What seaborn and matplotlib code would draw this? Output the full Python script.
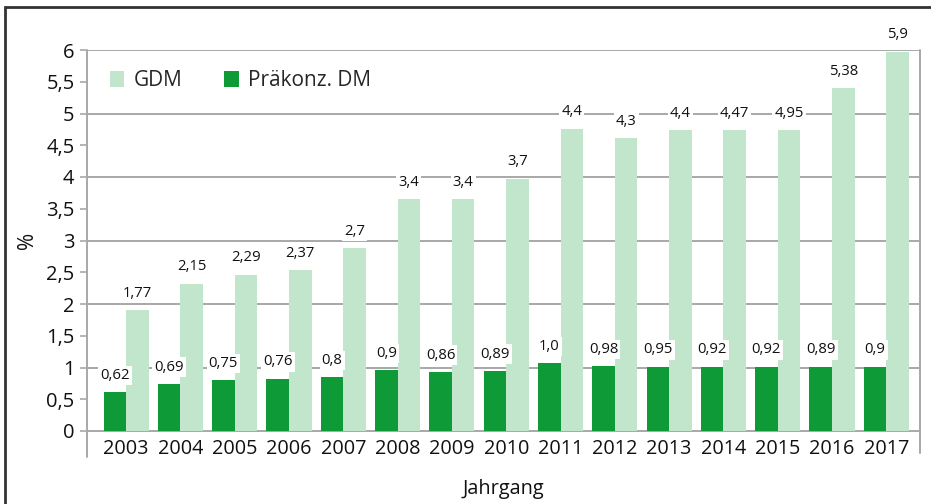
import matplotlib
matplotlib.use("Agg")
import matplotlib.pyplot as plt
from matplotlib.patches import Patch, Rectangle
from matplotlib.lines import Line2D
import seaborn as sns
import pandas as pd

years = [str(y) for y in range(2003, 2018)]
gdm_heights = [1.90, 2.32, 2.46, 2.53, 2.88, 3.65, 3.65, 3.97, 4.76, 4.61, 4.74, 4.74, 4.74, 5.40, 5.97]
gdm_labels = ["1,77", "2,15", "2,29", "2,37", "2,7", "3,4", "3,4", "3,7", "4,4", "4,3", "4,4", "4,47", "4,95", "5,38", "5,9"]
pdm_heights = [0.61, 0.74, 0.80, 0.82, 0.85, 0.96, 0.93, 0.945, 1.07, 1.02, 1.01, 1.01, 1.01, 1.01, 1.01]
pdm_labels = ["0,62", "0,69", "0,75", "0,76", "0,8", "0,9", "0,86", "0,89", "1,0", "0,98", "0,95", "0,92", "0,92", "0,89", "0,9"]
series = ["Präkonz. DM", "GDM"]
colors = {"Präkonz. DM": "#0e9a37", "GDM": "#c2e6cc"}
yticks = [0, 0.5, 1, 1.5, 2, 2.5, 3, 3.5, 4, 4.5, 5, 5.5, 6]
ytick_labels = ["0", "0,5", "1", "1,5", "2", "2,5", "3", "3,5", "4", "4,5", "5", "5,5", "6"]

df = pd.DataFrame({
    "Jahrgang": years * 2,
    "Serie": ["Präkonz. DM"] * len(years) + ["GDM"] * len(years),
    "Wert": pdm_heights + gdm_heights,
})

sns.set_theme(style="white")
plt.rcParams["font.family"] = ["Open Sans", "DejaVu Sans"]

W, H = 931, 504
fig = plt.figure(figsize=(W / 100, H / 100), dpi=100)
ax = fig.add_axes([87 / W, (H - 431) / H, (920 - 87) / W, (431 - 50) / H])

sns.barplot(data=df, x="Jahrgang", y="Wert", hue="Serie", hue_order=series,
            palette=colors, width=0.83, gap=0, saturation=1, legend=False,
            linewidth=0, edgecolor="none", ax=ax, zorder=3)

ax.set_xlim(-0.72, 14.62)
ax.set_ylim(0, 6)
ax.set_yticks(yticks)
ax.set_yticklabels(ytick_labels, fontsize=14.5, color="#111111")
ax.tick_params(axis="x", labelsize=14.3, colors="#111111", length=0, pad=6)
ax.tick_params(axis="y", length=5, width=1.2, color="#a8a8a8", left=True, pad=4)

for v in [1, 2, 3, 4, 5, 6]:
    ax.axhline(v, color="#a8a8a8", lw=1.4, zorder=1)

for s in ["top", "left", "right"]:
    ax.spines[s].set_visible(False)
ax.spines["bottom"].set_color("#a8a8a8")
ax.spines["bottom"].set_linewidth(1.4)
ext = (457 - 431) / (431 - 50)
ax.add_line(Line2D([0, 0], [-ext, 1], transform=ax.transAxes, color="#a8a8a8",
                   lw=1.4, clip_on=False, zorder=2))
ax.add_line(Line2D([1, 1], [-ext * 0.85, 1], transform=ax.transAxes, color="#a8a8a8",
                   lw=1.4, clip_on=False, zorder=2))

label_sets = {"Präkonz. DM": pdm_labels, "GDM": gdm_labels}
for cont, name in zip(ax.containers, series):
    for bar, txt in zip(cont, label_sets[name]):
        cx = bar.get_x() + bar.get_width() / 2
        ax.annotate(txt, (cx, bar.get_height()), xytext=(0, 12.2), textcoords="offset points",
                    ha="center", va="center", fontsize=10.7, color="#111111", zorder=5,
                    bbox=dict(facecolor="white", edgecolor="none", pad=1.5),
                    annotation_clip=False)

ax.set_xlabel("Jahrgang", fontsize=14.3, color="#111111", labelpad=14)
ax.set_ylabel("%", fontsize=15, color="#111111", labelpad=6)

handles = [Patch(facecolor=colors["GDM"], edgecolor="none", label="GDM"),
           Patch(facecolor=colors["Präkonz. DM"], edgecolor="none", label="Präkonz. DM")]
ax.legend(handles=handles, loc="upper left", bbox_to_anchor=(0.01, 0.985), ncol=2,
          frameon=False, fontsize=15, handlelength=0.7, handleheight=0.85,
          handletextpad=0.45, columnspacing=2.0, borderaxespad=0.3)

fig.add_artist(Rectangle((5 / W, -0.05), 1.2, (H - 7) / H + 0.05, transform=fig.transFigure,
                         fill=False, edgecolor="#333333", lw=2, clip_on=False))

fig.savefig("out.png", dpi=100)
